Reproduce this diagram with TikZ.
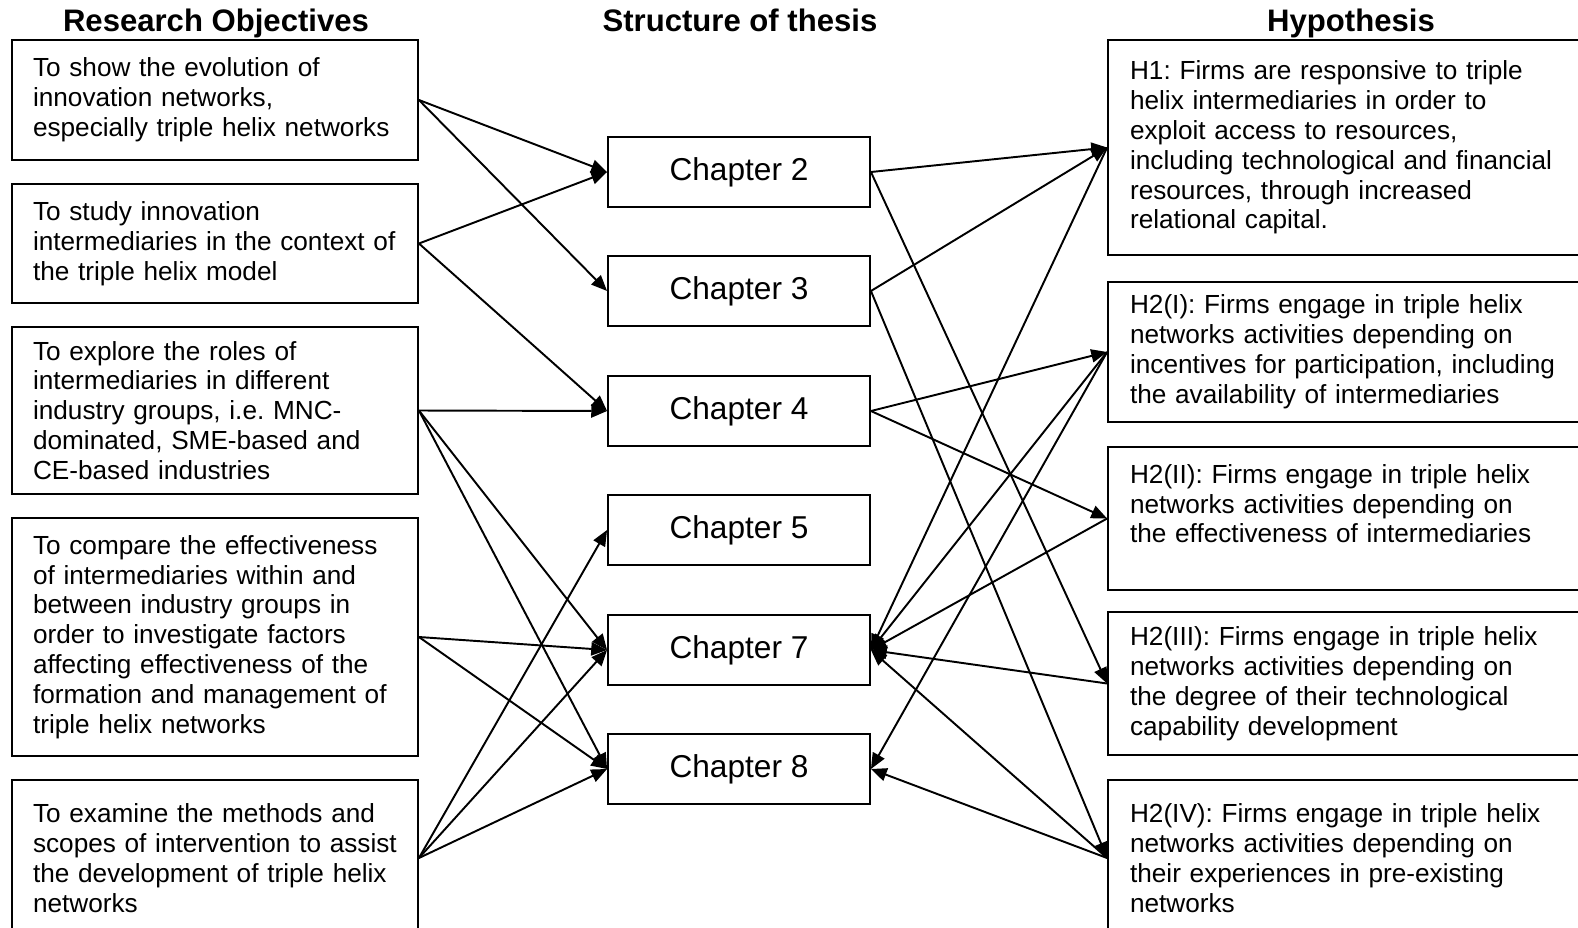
\documentclass[tikz,border=0pt]{standalone}
\usepackage{fontspec}
\setmainfont{Liberation Sans}
\usetikzlibrary{arrows.meta}

\begin{document}
\begin{tikzpicture}[x=0.02cm, y=-0.02cm, line width=1.1pt, >={Triangle[length=9pt,width=7.5pt]},
	head/.style={font=\fontsize{17.7}{20}\selectfont\bfseries, anchor=base},
	obj/.style={draw, align=left, text width=7.28cm, inner xsep=0.42cm, inner ysep=0pt,
		font=\fontsize{14.9}{17}\selectfont\frenchspacing,
		execute at begin node={\rightskip=0pt plus 1fil minus 2cm}},
	hyp/.style={obj, text width=9.12cm, inner xsep=0.44cm},
	chap/.style={draw, minimum width=5.24cm, minimum height=1.4cm, font=\fontsize{18}{20}\selectfont}]
	\useasboundingbox (0,0) rectangle (1578,927);
	\clip (0,0) rectangle (1578,927);
	% column titles
	\node[head] (tro) at (216,31) {Research Objectives};
	\node[head] (tch) at (740,31) {Structure of thesis};
	\node[head] (thy) at (1351,31) {Hypothesis};
	% research objectives
	\node[obj, minimum height=2.4cm] (ro1) at (215,100) {To show the evolution of\\ innovation networks,\\ especially triple helix networks};
	\node[obj, minimum height=2.38cm] (ro2) at (215,243.5) {To study innovation\\ intermediaries in the context of\\ the triple helix model};
	\node[obj, minimum height=3.34cm] (ro3) at (215,410.5) {To explore the roles of\\ intermediaries in different\\ industry groups, i.e. MNC-\\ dominated, SME-based and\\ CE-based industries};
	\node[obj, minimum height=4.76cm] (ro4) at (215,637) {To compare the effectiveness\\ of intermediaries within and\\ between industry groups in\\ order to investigate factors\\ affecting effectiveness of the\\ formation and management of\\ triple helix networks};
	\node[obj, minimum height=3.12cm] (ro5) at (215,858) {To examine the methods and\\ scopes of intervention to assist\\ the development of triple helix\\ networks};
	% chapters
	\foreach \c/\y in {2/172, 3/291, 4/411, 5/530, 7/650, 8/769}
		\node[chap] (ch\c) at (739,\y) {Chapter \c};
	% hypotheses
	\node[hyp, minimum height=4.3cm] (h1) at (1358,147.5) {H1: Firms are responsive to triple\\ helix intermediaries in order to\\ exploit access to resources,\\ including technological and financial\\ resources, through increased\\ relational capital.};
	\node[hyp, minimum height=2.8cm] (h2a) at (1358,352) {H2(I): Firms engage in triple helix\\ networks activities depending on\\ incentives for participation, including\\ the availability of intermediaries};
	\node[hyp, minimum height=2.86cm] (h2b) at (1358,518.5) {H2(II): Firms engage in triple helix\\ networks activities depending on\\ the effectiveness of intermediaries\\ \mbox{}};
	\node[hyp, minimum height=2.86cm] (h2c) at (1358,683.5) {H2(III): Firms engage in triple helix\\ networks activities depending on\\ the degree of their technological\\ capability development};
	\node[hyp, minimum height=3.12cm] (h2d) at (1358,858) {H2(IV): Firms engage in triple helix\\ networks activities depending on\\ their experiences in pre-existing\\ networks};
	% objectives to chapters
	\foreach \a/\b in {ro1/ch2, ro1/ch3, ro2/ch2, ro2/ch4, ro3/ch4, ro3/ch7, ro3/ch8, ro4/ch7, ro4/ch8, ro5/ch5, ro5/ch7, ro5/ch8}
		\draw[->] (\a.east) -- (\b.west);
	% chapters to hypotheses
	\foreach \a/\b in {ch2/h1, ch3/h1, ch4/h2a, ch4/h2b, ch2/h2c, ch3/h2d}
		\draw[->] (\a.east) -- (\b.west);
	% hypotheses back to chapters
	\foreach \a/\b in {h1/ch7, h2a/ch7, h2a/ch8, h2b/ch7, h2c/ch7, h2d/ch7, h2d/ch8}
		\draw[->] (\a.west) -- (\b.east);
\end{tikzpicture}
\end{document}
